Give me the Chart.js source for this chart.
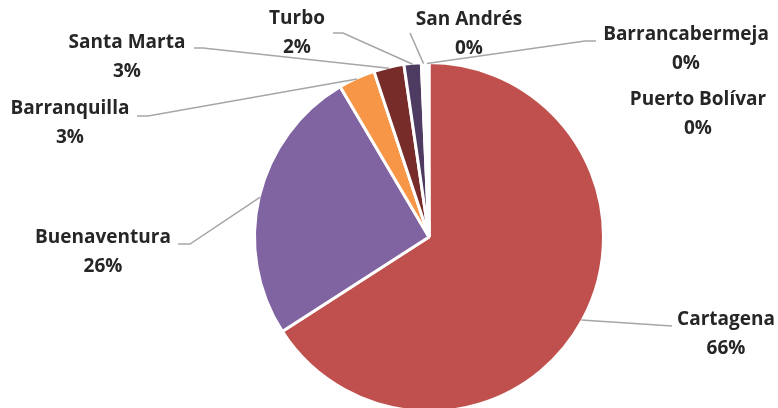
<!DOCTYPE html>
<html>
<head>
<meta charset="utf-8">
<script src="https://cdn.jsdelivr.net/npm/chart.js@4.4.0/dist/chart.umd.min.js"></script>
<style>
  html, body { margin: 0; padding: 0; background: #fff; }
  #wrap { position: relative; width: 778px; height: 408px; overflow: hidden; }
  #puertosChart { position: absolute; left: 0; top: 0; }
</style>
</head>
<body>
<div id="wrap">
  <canvas id="puertosChart" width="778" height="420"></canvas>
</div>
<script>
// datos
const puertos = ['Cartagena', 'Buenaventura', 'Barranquilla', 'Santa Marta', 'Turbo', 'San Andrés', 'Barrancabermeja', 'Puerto Bolívar'];
const participacion = [65.9, 25.6, 3.4, 2.8, 1.6, 0.4, 0.2, 0.1];
const colores = ['#C0504D', '#8064A2', '#F79646', '#772C2A', '#4D3B62', '#FFFFFF', '#FFFFFF', '#FFFFFF'];

// posicion de cada etiqueta (centro de la primera linea) y quiebres de la linea guia
const etiquetas = [
  { x: 726, y: 320, guia: [[672, 326]] },
  { x: 103, y: 238, guia: [[190, 244], [178, 244]] },
  { x: 70, y: 109, guia: [[148, 116], [137, 116]] },
  { x: 127, y: 43, guia: [[203, 48], [194, 48]] },
  { x: 297, y: 19, guia: [[343, 33], [333, 33]] },
  { x: 469, y: 20, guia: [[410, 33]] },
  { x: 686, y: 35, guia: [[585, 41], [596, 41]] },
  { x: 698, y: 100, guia: [] }
];

const etiquetasPlugin = {
  id: 'etiquetasPie',
  afterDatasetsDraw(chart) {
    const ctx = chart.ctx;
    const meta = chart.getDatasetMeta(0);
    const total = participacion.reduce((a, b) => a + b, 0);
    ctx.save();
    meta.data.forEach((arc, i) => {
      const lab = etiquetas[i];
      const p = arc.getProps(['x', 'y', 'startAngle', 'endAngle', 'outerRadius'], true);
      const mid = (p.startAngle + p.endAngle) / 2;
      const ax = p.x + Math.cos(mid) * (p.outerRadius - 1);
      const ay = p.y + Math.sin(mid) * (p.outerRadius - 1);
      if (lab.guia.length) {
        ctx.strokeStyle = '#A6A6A6';
        ctx.lineWidth = 1.5;
        ctx.beginPath();
        ctx.moveTo(ax, ay);
        lab.guia.forEach(pt => ctx.lineTo(pt[0], pt[1]));
        ctx.stroke();
      }
      const pct = Math.round(participacion[i] / total * 100) + '%';
      ctx.fillStyle = '#262626';
      ctx.font = 'bold 19px "Open Sans"';
      ctx.textAlign = 'center';
      ctx.textBaseline = 'middle';
      ctx.fillText(puertos[i], lab.x, lab.y);
      ctx.fillText(pct, lab.x, lab.y + 29);
    });
    ctx.restore();
  }
};

new Chart(document.getElementById('puertosChart'), {
  type: 'pie',
  data: {
    labels: puertos,
    datasets: [{
      data: participacion,
      backgroundColor: colores,
      borderColor: '#FFFFFF',
      borderWidth: 3
    }]
  },
  options: {
    responsive: false,
    animation: false,
    devicePixelRatio: 1,
    layout: { padding: { left: 253, right: 173, top: 61, bottom: 7 } },
    plugins: {
      legend: { display: false },
      tooltip: { enabled: false }
    }
  },
  plugins: [etiquetasPlugin]
});
</script>
</body>
</html>
